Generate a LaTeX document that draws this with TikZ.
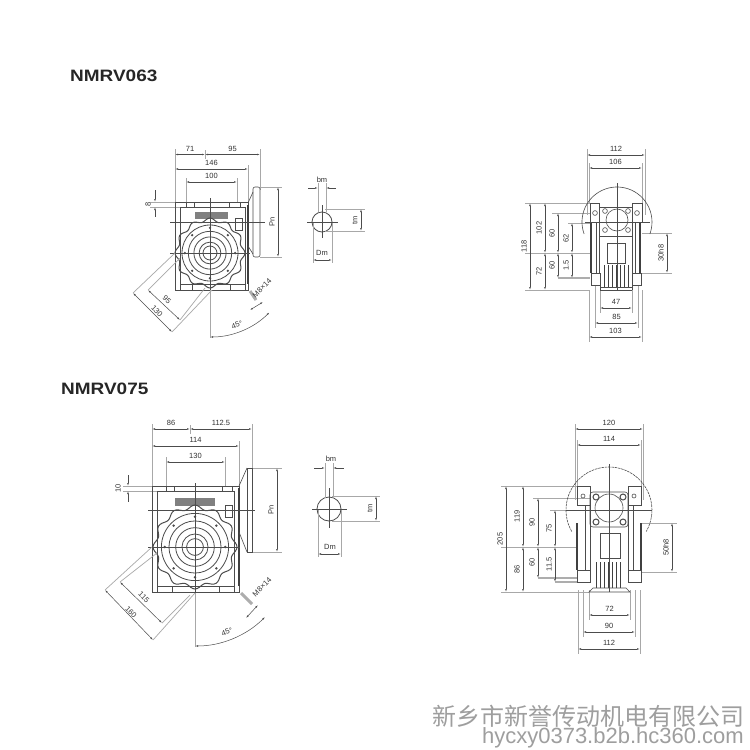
\documentclass[tikz,border=0pt]{standalone}
\usepackage{fontspec}
\setmainfont{Liberation Sans}
\newfontfamily\cjkfont{Noto Sans CJK SC}
\newfontfamily\titlefont[FakeStretch=1.15]{Liberation Sans}
\usetikzlibrary{arrows.meta,positioning}
\definecolor{inkgray}{gray}{0.3}
\definecolor{extgray}{gray}{0.66}
\definecolor{markgray}{gray}{0.68}
\tikzset{
	part/.style={draw=inkgray,line width=.6pt},
	heavy/.style={draw=black!75,line width=1.3pt},
	extline/.style={draw=extgray,line width=.7pt},
	dimline/.style={draw=inkgray,line width=.5pt,{Latex[length=3pt,width=1.7pt]}-{Latex[length=3pt,width=1.7pt]}},
	dimout/.style={draw=inkgray,line width=.5pt,{Latex[length=3pt,width=1.7pt]}-},
	centerl/.style={draw=inkgray,line width=.4pt},
	dimlabel/.style={font=\fontsize{7.5}{8}\selectfont,text=black!80,inner sep=0pt},
	titlelabel/.style={font=\titlefont\fontsize{16.5}{17}\selectfont\bfseries,text=black!85,inner sep=0pt,anchor=west},
	boltdot/.style={fill=black!70,draw=none},
	hatched/.style={draw=markgray,line width=3pt},
	wormfill/.style={fill=black!50,draw=none}
}
% horizontal and vertical dimensions: from, to, position, text, node name
\newcommand{\dimh}[5]{\draw[dimline] (#1,#3) -- (#2,#3);
	\node[dimlabel] (#5) at ({(#1+#2)/2},#3-6) {#4};}
\newcommand{\dimv}[5]{\draw[dimline] (#3,#1) -- (#3,#2);
	\node[dimlabel,rotate=90] (#5) at (#3-6,{(#1+#2)/2}) {#4};}
% scalloped plate with its rings: x, y, radius
\newcommand{\gearplate}[3]{
	\draw[part,line width=1pt] plot[smooth,samples=121,domain=0:360,variable=\t]
		({#1+#3*(.95+.05*cos(12*\t))*cos(\t)},{#2+#3*(.95+.05*cos(12*\t))*sin(\t)});
	\foreach \ringr in {.8,.62,.46,.31,.2}
		\draw[part,line width=.8pt] (#1,#2) circle[radius=\ringr*#3*1pt];
	\foreach \boltang in {0,45,...,315}
		\fill[boltdot] (#1,#2) ++(\boltang:.72*#3*1pt) circle[radius=1.3pt];
}
\begin{document}
\begin{tikzpicture}[x=1pt,y=-1pt]
	\useasboundingbox (0,0) rectangle (750,750);
	\fill[white] (0,0) rectangle (750,750);

	\node[titlelabel] (title063) at (70,76) {NMRV063};
	\node[titlelabel] (title075) at (61,389) {NMRV075};

	% NMRV063 side view
	\foreach \xa/\ya/\xb/\yb in {175/149/175/290, 205/150/205/159, 260/149/260/190, 248/165/248/202,
		186/178/186/202, 237/178/237/202, 150/202/186/202, 150/207/186/207, 260/187/282/187, 260/257/282/257}
		\draw[extline] (\xa,\ya) -- (\xb,\yb);
	\draw[part] (175,202) rectangle (248,290);
	\draw[part] (180,207) -- (180,284) -- (245,284) -- (245,207) -- cycle;
	\draw[part] (186,202) rectangle (194,207) (229,202) rectangle (240,207);
	\draw[part] (180,284) rectangle (192,290) (230,284) rectangle (245,290);
	\fill[wormfill] (195,212) rectangle (228,219);
	\draw[part] (235,218) rectangle (242,230);
	\draw[heavy] (248,205) -- (248,284);
	\draw[part] (248,203) -- (253,192) (248,246) -- (253,254);
	\draw[part,rounded corners=2pt] (253,187) rectangle (260,257);
	\gearplate{210}{253}{35}
	\draw[centerl] (170,222) -- (265,222) (170,253) -- (250,253) (210,198) -- (210,291);
	\dimh{175}{205}{154.5}{71}{d71}
	\dimh{205}{260}{154.5}{95}{d95}
	\dimh{175}{248}{169}{146}{d146}
	\dimh{186}{237}{182}{100}{d100}
	\dimv{187}{257}{278}{Pn}{dpn}
	\draw[dimout] (155,202) -- (155,190);
	\draw[dimout] (155,207) -- (155,217);
	\node[dimlabel,rotate=90] (d8) at (148,204) {8};
	\draw[extline] (175,253) -- (133,293) (212,290) -- (172,332) (180,258) -- (148,290) (205,288) -- (180,320);
	\draw[dimline] (133,293) -- (172,332);
	\draw[dimline] (148,290) -- (180,320);
	\node[dimlabel,rotate=-45] (d95d) at (167,300) {95};
	\node[dimlabel,rotate=-45] (d130d) at (157,311) {130};
	\draw[hatched] (250,291) -- (256,300);
	\draw[dimline] (250,310) -- (263,302);
	\node[dimlabel,rotate=45] (dm8a) at (262,288) {M8×14};
	\draw[extline] (210,290) -- (210,338);
	\draw[dimline] (210,253) ++(-90:84pt) arc[start angle=-90,end angle=-45,radius=84pt];
	\node[dimlabel,rotate=20] (d45a) at (237,325) {45°};

	% NMRV063 shaft section
	\draw[part,line width=.8pt] (322,222) circle[radius=10pt];
	\draw[extline] (318,183) -- (318,212) (326,183) -- (326,212) (325,209) -- (365,209) (325,231) -- (365,231)
		(313,222) -- (313,263) (332,222) -- (332,263);
	\draw[centerl] (307,222) -- (338,222) (322,205) -- (322,238);
	\draw[dimout] (318,188) -- (308,188);
	\draw[dimout] (326,188) -- (336,188);
	\node[dimlabel] (dbma) at (322,180) {bm};
	\dimv{209}{231}{361}{tm}{dtma}
	\draw[dimline] (313,260) -- (332,260);
	\node[dimlabel] (ddma) at (322,253) {Dm};

	% NMRV063 end view
	\foreach \xa/\ya/\xb/\yb in {587/149/587/215, 645/149/645/215, 589/163/589/203, 642/163/642/203,
		525/203/590/203, 525/253/590/253, 525/290/590/290, 552/213/590/213, 568/223/590/223,
		642/233/672/233, 642/273/672/273, 589/290/589/342, 642/290/642/342, 595/285/595/328,
		638/285/638/328, 600/287/600/313, 632/287/632/313}
		\draw[extline] (\xa,\ya) -- (\xb,\yb);
	\draw[hatched,line width=1.5pt] (558,278) -- (590,278);
	\draw[part] (617,222) ++(200:35pt) arc[start angle=200,end angle=-20,radius=35pt];
	\draw[part] (590,203) rectangle (599,222) (632,203) rectangle (642,222);
	\draw[part] (599,207) -- (632,207);
	\draw[part] (599,236) -- (632,236);
	\draw[part] (617,220) circle[radius=11pt];
	\foreach \bx/\by in {605/211, 628/211, 605/230, 628/230, 595/213, 637/213}
		\draw[part] (\bx,\by) circle[radius=2.4pt];
	\draw[heavy] (591,222) -- (591,273) (640,222) -- (640,273);
	\draw[part] (596,222) -- (596,273) (599,222) -- (599,273) (632,222) -- (632,273) (635,222) -- (635,273);
	\draw[part] (607,243) rectangle (625,263);
	\foreach \finx in {604,608,...,628}
		\draw[heavy,line width=1pt] (\finx,265) -- (\finx,287);
	\draw[part] (591,273) rectangle (600,285) (632,273) rectangle (641,285);
	\draw[part] (600,287) -- (632,287) (600,290) -- (632,290) (600,285) -- (600,290) (632,285) -- (632,290);
	\draw[centerl] (617,183) -- (617,290) (585,222) -- (650,222);
	\dimh{587}{645}{155}{112}{d112}
	\dimh{589}{642}{168}{106}{d106}
	\dimv{203}{290}{530}{118}{d118}
	\dimv{203}{253}{545}{102}{d102}
	\dimv{253}{290}{545}{72}{d72}
	\dimv{213}{253}{558}{60}{d60a}
	\dimv{253}{278}{558}{60}{d60b}
	\dimv{223}{253}{572}{62}{d62}
	\dimv{253}{278}{572}{1.5}{d15}
	\dimv{233}{273}{667}{30h8}{d30}
	\dimh{600}{632}{308}{47}{d47}
	\dimh{595}{638}{323}{85}{d85}
	\dimh{589}{642}{337}{103}{d103}

	% NMRV075 side view
	\foreach \xa/\ya/\xb/\yb in {152/424/152/592, 190/425/190/434, 252/424/252/470, 239/441/239/486,
		166/457/166/486, 225/457/225/486, 123/486/166/486, 123/491/166/491, 252/468/282/468, 252/552/282/552}
		\draw[extline] (\xa,\ya) -- (\xb,\yb);
	\draw[part] (152,486) rectangle (239,592);
	\draw[part] (157,491) -- (157,586) -- (234,586) -- (234,491) -- cycle;
	\draw[part] (166,486) rectangle (174,491) (222,486) rectangle (232,491);
	\draw[part] (157,586) rectangle (172,592) (219,586) rectangle (234,592);
	\fill[wormfill] (175,498) rectangle (215,506);
	\draw[part] (225,505) rectangle (232,517);
	\draw[heavy] (239,488) -- (239,586);
	\draw[part] (239,486) -- (247,468) (239,532) -- (247,552);
	\draw[part] (247,468) rectangle (252,552);
	\gearplate{195}{547}{42}
	\draw[centerl] (148,510) -- (255,510) (148,547) -- (240,547) (195,483) -- (195,594);
	\dimh{152}{190}{429}{86}{d86}
	\dimh{190}{252}{429}{112.5}{d1125}
	\dimh{152}{239}{446}{114}{d114}
	\dimh{166}{225}{462}{130}{d130}
	\dimv{468}{552}{277}{Pn}{dpnb}
	\draw[dimout] (128,486) -- (128,475);
	\draw[dimout] (128,491) -- (128,502);
	\node[dimlabel,rotate=90] (d10) at (118,488) {10};
	\draw[extline] (152,547) -- (105,590) (195,593) -- (153,640) (157,553) -- (120,582) (190,595) -- (162,623);
	\draw[dimline] (105,590) -- (153,640);
	\draw[dimline] (120,582) -- (162,623);
	\node[dimlabel,rotate=-45] (d115d) at (144,597) {115};
	\node[dimlabel,rotate=-45] (d160d) at (131,612) {160};
	\draw[hatched] (241,593) -- (252,604);
	\draw[dimline] (246,618) -- (258,605);
	\node[dimlabel,rotate=45] (dm8b) at (262,587) {M8×14};
	\draw[extline] (195,593) -- (195,647);
	\draw[dimline] (195,547) ++(-90:99pt) arc[start angle=-90,end angle=-45,radius=99pt];
	\node[dimlabel,rotate=20] (d45b) at (227,632) {45°};

	% NMRV075 shaft section
	\draw[part,line width=.8pt] (329,509) circle[radius=12pt];
	\draw[extline] (325,463) -- (325,498) (333,463) -- (333,498) (332,496) -- (380,496) (332,521) -- (380,521)
		(318,509) -- (318,557) (341,509) -- (341,557);
	\draw[centerl] (312,509) -- (347,509) (329,488) -- (329,528);
	\draw[dimout] (325,468) -- (314,468);
	\draw[dimout] (333,468) -- (344,468);
	\node[dimlabel] (dbmb) at (331,459) {bm};
	\dimv{496}{521}{376}{tm}{dtmb}
	\draw[dimline] (318,554) -- (341,554);
	\node[dimlabel] (ddmb) at (330,547) {Dm};

	% NMRV075 end view
	\foreach \xa/\ya/\xb/\yb in {575/424/575/500, 643/424/643/500, 577/440/577/486, 641/440/641/486,
		501/486/590/486, 501/547/577/547, 501/592/589/592, 533/498/590/498, 550/510/590/510,
		641/523/677/523, 641/572/677/572, 578/590/578/654, 640/590/640/654, 583/590/583/637,
		635/590/635/637, 589/590/589/620, 630/590/630/620}
		\draw[extline] (\xa,\ya) -- (\xb,\yb);
	\draw[hatched,line width=1.5pt] (538,578) -- (577,578) (555,582) -- (577,582);
	\draw[part,dash pattern=on 2.5pt off .8pt] (609,510) ++(210:43pt) arc[start angle=210,end angle=-30,radius=43pt];
	\draw[part] (577,486) rectangle (590,505) (628,486) rectangle (641,505);
	\draw[part,rounded corners=3pt] (590,492) rectangle (628,527);
	\draw[part] (609,508) circle[radius=14pt];
	\foreach \bx/\by in {596/497, 623/497, 596/522, 623/522}
		\draw[part,line width=1pt] (\bx,\by) circle[radius=3pt];
	\foreach \bx in {583, 634}
		\draw[part] (\bx,496) circle[radius=2pt];
	\draw[heavy,line width=2pt] (577,523) -- (577,570) (641,523) -- (641,570);
	\draw[part] (585,505) -- (585,570) (590,505) -- (590,570) (628,505) -- (628,570) (633,505) -- (633,570);
	\draw[part] (600,533) rectangle (620,558);
	\foreach \finx in {596,600,...,620}
		\draw[heavy,line width=1pt] (\finx,562) -- (\finx,588);
	\draw[part] (577,570) rectangle (590,582) (628,570) rectangle (641,582);
	\draw[part] (589,592) -- (593,588) -- (626,588) -- (630,592) -- cycle;
	\draw[centerl] (609,464) -- (609,592) (566,510) -- (652,510);
	\dimh{575}{643}{429}{120}{d120}
	\dimh{577}{641}{445}{114}{d114b}
	\dimv{486}{592}{506}{205}{d205}
	\dimv{486}{547}{523}{119}{d119}
	\dimv{547}{592}{523}{86}{d86b}
	\dimv{498}{547}{538}{90}{d90a}
	\dimv{547}{578}{538}{60}{d60c}
	\dimv{510}{547}{555}{75}{d75}
	\dimv{547}{582}{555}{11.5}{d115}
	\dimv{523}{572}{672}{50h8}{d50}
	\dimh{589}{630}{615}{72}{d72b}
	\dimh{583}{635}{632}{90}{d90b}
	\dimh{578}{640}{649}{112}{d112b}

	% watermark
	\node[inner sep=0pt,anchor=east,text=black!38,font=\cjkfont\fontsize{24}{26}\selectfont] (mark1) at (745,716) {新乡市新誉传动机电有限公司};
	\node[inner sep=0pt,anchor=east,text=black!38,font=\fontsize{22}{24}\selectfont] (mark2) at (744,738) {hycxy0373.b2b.hc360.com};
\end{tikzpicture}
\end{document}
